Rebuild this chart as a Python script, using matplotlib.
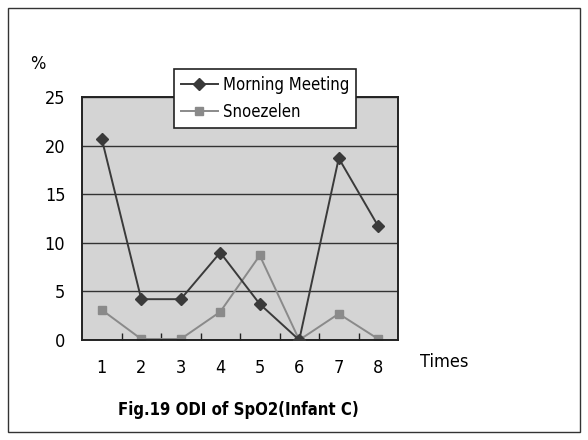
import numpy as np
import matplotlib.pyplot as plt
from matplotlib.patches import Rectangle

times = [1, 2, 3, 4, 5, 6, 7, 8]
morning = [20.7, 4.2, 4.2, 9.0, 3.7, 0.0, 18.7, 11.7]
snoezelen = [3.1, 0.1, 0.1, 2.9, 8.7, 0.0, 2.7, 0.1]
yticks = [0, 5, 10, 15, 20, 25]

plt.rcParams['font.family'] = ['DejaVu Sans']
plt.rcParams['font.stretch'] = 'condensed'

fig = plt.figure(figsize=(5.88, 4.4), dpi=100)
fig.patches.append(Rectangle((8/588, 8/440), 572/588, 424/440, transform=fig.transFigure,
                             fill=False, edgecolor='#333333', linewidth=1.0))

ax = fig.add_axes([82/588, 100/440, 316/588, 243/440])
ax.set_facecolor('#d4d4d4')
ax.plot(times, morning, color='#3a3a3a', marker='D', markersize=6, linewidth=1.4,
        label='Morning Meeting', zorder=3)
ax.plot(times, snoezelen, color='#8a8a8a', marker='s', markersize=6, linewidth=1.4,
        label='Snoezelen', zorder=2)

ax.set_xlim(0.5, 8.5)
ax.set_ylim(0, 25)
ax.set_yticks(yticks)
ax.set_xticks(times)
ax.tick_params(axis='x', length=0, pad=14, labelsize=13)
ax.tick_params(axis='y', length=0, pad=12, labelsize=13)
ax.set_xticks(np.arange(1.5, 8.5, 1), minor=True)
ax.tick_params(axis='x', which='minor', direction='in', length=5, width=1, color='#222222')
ax.grid(axis='y', color='#333333', linewidth=1.0)
ax.set_axisbelow(True)
for s in ax.spines.values():
    s.set_color('#222222')
    s.set_linewidth(1.4)

fig.text(30/588, 1 - 64/440, '%', fontsize=13, va='center')
fig.text(420/588, 1 - 362/440, 'Times', fontsize=13, va='center')
fig.text(238/588, 1 - 410/440, 'Fig.19 ODI of SpO2(Infant C)', fontsize=12,
         fontweight='bold', ha='center', va='center')

leg = fig.legend(loc='upper left', bbox_to_anchor=(166/588, 1 - 61/440), fontsize=12,
                 frameon=True, fancybox=False, edgecolor='#222222', framealpha=1,
                 handlelength=2.2, borderpad=0.4, labelspacing=0.55, handletextpad=0.3)
leg.get_frame().set_linewidth(1.2)

fig.savefig('out.png', dpi=100)
